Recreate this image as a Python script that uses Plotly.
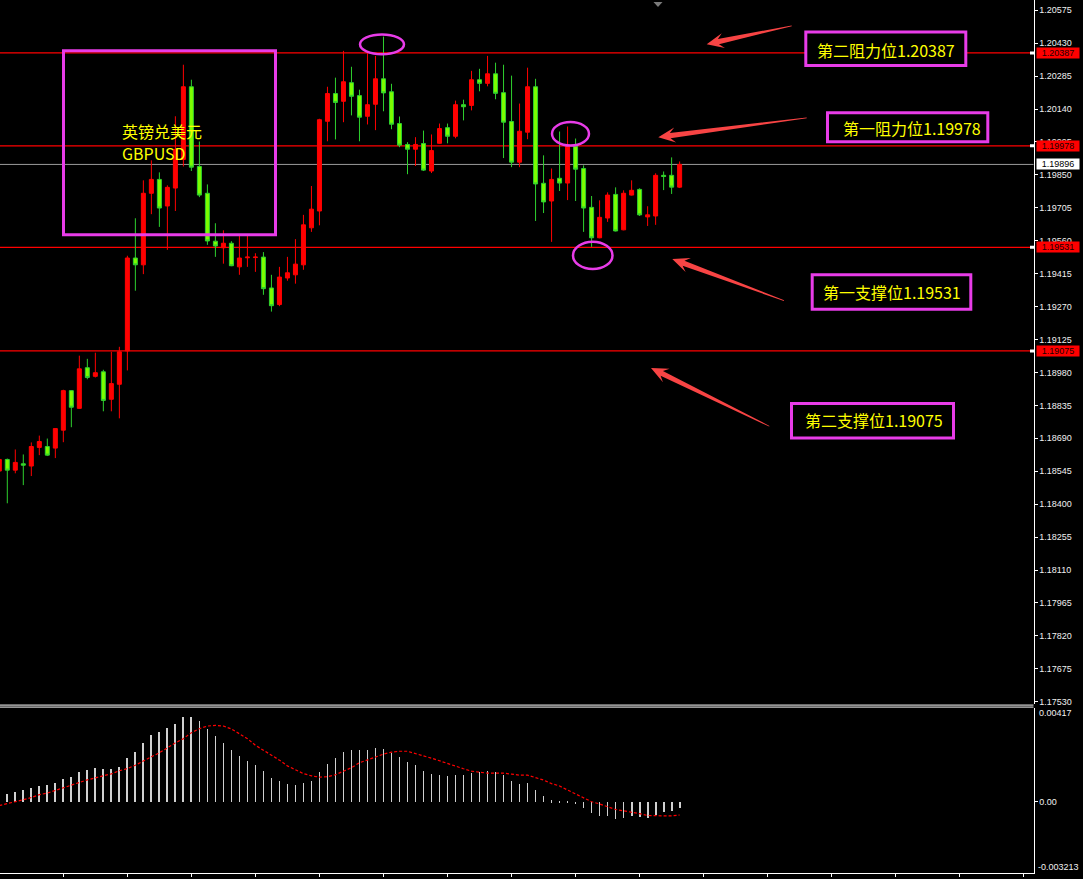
import plotly.graph_objects as go

W, H = 1083, 879

# ---------------- data (GBPUSD candles, MACD) ----------------
opens = [1.18546, 1.18597, 1.18550, 1.18578, 1.18568, 1.18650, 1.18654, 1.18647, 1.18726, 1.18900,
         1.18822, 1.19001, 1.18963, 1.18983, 1.18862, 1.18928, 1.19075, 1.19484, 1.19454, 1.19769,
         1.19830, 1.19713, 1.19792, 1.19918, 1.20238, 1.19887, 1.19769, 1.19558, 1.19529, 1.19549,
         1.19445, 1.19485, 1.19486, 1.19488, 1.19352, 1.19279, 1.19396, 1.19410, 1.19454, 1.19617,
         1.19691, 1.20086, 1.20208, 1.20174, 1.20256, 1.20199, 1.20108, 1.20161, 1.20273, 1.20216,
         1.20076, 1.19984, 1.19963, 1.19988, 1.19867, 1.19989, 1.20058, 1.20020, 1.20159, 1.20156,
         1.20269, 1.20253, 1.20295, 1.20212, 1.20085, 1.19906, 1.20038, 1.20238, 1.19813, 1.19735,
         1.19835, 1.19814, 1.19976, 1.19878, 1.19707, 1.19573, 1.19660, 1.19764, 1.19608, 1.19761,
         1.19786, 1.19665, 1.19669, 1.19848, 1.19848, 1.19796]
highs = [1.18606, 1.18601, 1.18641, 1.18619, 1.18672, 1.18702, 1.18689, 1.18733, 1.18904, 1.18902,
         1.19054, 1.19040, 1.19067, 1.18992, 1.19071, 1.19093, 1.19494, 1.19659, 1.19826, 1.19914,
         1.19861, 1.19804, 1.20108, 1.20335, 1.20269, 1.19997, 1.19808, 1.19637, 1.19606, 1.19558,
         1.19581, 1.19581, 1.19505, 1.19510, 1.19410, 1.19445, 1.19489, 1.19567, 1.19674, 1.19801,
         1.20097, 1.20238, 1.20278, 1.20396, 1.20326, 1.20225, 1.20386, 1.20374, 1.20459, 1.20251,
         1.20107, 1.19994, 1.20016, 1.20045, 1.20028, 1.20076, 1.20076, 1.20177, 1.20181, 1.20308,
         1.20317, 1.20374, 1.20344, 1.20335, 1.20287, 1.20164, 1.20322, 1.20273, 1.19936, 1.19878,
         1.20041, 1.20063, 1.20010, 1.19892, 1.19757, 1.19738, 1.19773, 1.19795, 1.19782, 1.19826,
         1.19791, 1.19712, 1.19857, 1.19865, 1.19927, 1.19909]
lows = [1.18540, 1.18404, 1.18536, 1.18484, 1.18524, 1.18616, 1.18612, 1.18603, 1.18673, 1.18739,
        1.18820, 1.18950, 1.18958, 1.18809, 1.18809, 1.18778, 1.18989, 1.19340, 1.19413, 1.19677,
        1.19621, 1.19520, 1.19691, 1.19887, 1.19867, 1.19752, 1.19542, 1.19489, 1.19459, 1.19448,
        1.19410, 1.19445, 1.19423, 1.19322, 1.19248, 1.19272, 1.19384, 1.19371, 1.19432, 1.19599,
        1.19628, 1.19998, 1.20006, 1.20082, 1.20112, 1.19998, 1.20072, 1.20047, 1.20130, 1.20051,
        1.19972, 1.19853, 1.19889, 1.19867, 1.19858, 1.19987, 1.19989, 1.20011, 1.20090, 1.20134,
        1.20218, 1.20240, 1.20183, 1.19924, 1.19884, 1.19884, 1.20007, 1.19647, 1.19682, 1.19555,
        1.19779, 1.19739, 1.19735, 1.19599, 1.19533, 1.19571, 1.19643, 1.19601, 1.19606, 1.19759,
        1.19669, 1.19625, 1.19630, 1.19783, 1.19766, 1.19792]
closes = [1.18597, 1.18550, 1.18584, 1.18572, 1.18654, 1.18676, 1.18616, 1.18733, 1.18900, 1.18827,
          1.18996, 1.18958, 1.18979, 1.18857, 1.18931, 1.19071, 1.19484, 1.19454, 1.19769, 1.19830,
          1.19704, 1.19795, 1.19962, 1.20238, 1.19884, 1.19761, 1.19559, 1.19537, 1.19549, 1.19450,
          1.19484, 1.19488, 1.19488, 1.19349, 1.19274, 1.19400, 1.19419, 1.19457, 1.19630, 1.19699,
          1.20093, 1.20208, 1.20169, 1.20260, 1.20196, 1.20104, 1.20159, 1.20273, 1.20211, 1.20073,
          1.19981, 1.19963, 1.19984, 1.19871, 1.19957, 1.20054, 1.20020, 1.20159, 1.20150, 1.20269,
          1.20253, 1.20295, 1.20209, 1.20082, 1.19906, 1.20042, 1.20238, 1.19810, 1.19731, 1.19830,
          1.19814, 1.19976, 1.19875, 1.19704, 1.19573, 1.19663, 1.19761, 1.19603, 1.19769, 1.19782,
          1.19674, 1.19674, 1.19848, 1.19843, 1.19796, 1.19896]

macd_hist = [None, 0.00036, 0.00045, 0.00054, 0.00063, 0.00072, 0.00077, 0.00086, 0.00104, 0.00113,
             0.00135, 0.00144, 0.00153, 0.00149, 0.00149, 0.00158, 0.00198, 0.00225, 0.00266, 0.00302,
             0.00315, 0.00333, 0.00351, 0.00387, 0.00383, 0.00365, 0.00329, 0.00297, 0.00266, 0.00234,
             0.00207, 0.00185, 0.00167, 0.00140, 0.00108, 0.00095, 0.00081, 0.00077, 0.00086, 0.00095,
             0.00135, 0.00171, 0.00198, 0.00225, 0.00234, 0.00234, 0.00234, 0.00243, 0.00239, 0.00221,
             0.00203, 0.00180, 0.00167, 0.00140, 0.00126, 0.00122, 0.00117, 0.00122, 0.00122, 0.00131,
             0.00135, 0.00140, 0.00135, 0.00122, 0.00095, 0.00081, 0.00086, 0.00054, 0.00027, 0.00009,
             0.00005, 0.00005, -0.00005, -0.00027, -0.00050, -0.00063, -0.00063, -0.00077, -0.00072, -0.00063,
             -0.00068, -0.00072, -0.00059, -0.00045, -0.00041, -0.00027]
macd_signal = [-0.00017, -0.00009, 0.0, 0.00009, 0.00019, 0.00032, 0.00039, 0.00051, 0.00064, 0.00073,
               0.00087, 0.00099, 0.00108, 0.00117, 0.00126, 0.00140, 0.00150, 0.00165, 0.00185, 0.00203,
               0.00221, 0.00244, 0.00266, 0.00285, 0.00312, 0.00330, 0.00342, 0.00345, 0.00342, 0.00329,
               0.00307, 0.00285, 0.00255, 0.00233, 0.00210, 0.00188, 0.00162, 0.00143, 0.00127, 0.00117,
               0.00111, 0.00113, 0.00122, 0.00138, 0.00154, 0.00176, 0.00189, 0.00203, 0.00215, 0.00224,
               0.00228, 0.00228, 0.00219, 0.00207, 0.00197, 0.00185, 0.00170, 0.00158, 0.00149, 0.00138,
               0.00134, 0.00129, 0.00129, 0.00129, 0.00125, 0.00120, 0.00120, 0.00109, 0.00098, 0.00082,
               0.00071, 0.00053, 0.00035, 0.00019, 0.0, -0.00010, -0.00023, -0.00035, -0.00041, -0.00046,
               -0.00054, -0.00062, -0.00064, -0.00064, -0.00064, -0.00060]

price_ticks = [1.20575, 1.20430, 1.20285, 1.20140, 1.19995, 1.19850, 1.19705, 1.19560, 1.19415,
               1.19270, 1.19125, 1.18980, 1.18835, 1.18690, 1.18545, 1.18400, 1.18255, 1.18110,
               1.17965, 1.17820, 1.17675, 1.17530]
levels = [1.20387, 1.19978, 1.19531, 1.19075]
level_names = ["第二阻力位", "第一阻力位", "第一支撑位", "第二支撑位"]
bid_price = 1.19896
macd_max, macd_min = 0.00417, -0.003213
title_cn, title_en = "英镑兑美元", "GBPUSD"

idx = list(range(len(opens)))

# ---------------- helpers (pixel -> paper) ----------------
def px(x):
    return x / W


def py(y):
    return 1 - y / H


XDOM = 1033.5 / W

fig = go.Figure()

fig.add_trace(go.Candlestick(
    x=idx, open=opens, high=highs, low=lows, close=closes,
    increasing=dict(line=dict(color="#FF0000", width=1), fillcolor="#FF0000"),
    decreasing=dict(line=dict(color="#2ED02E", width=1), fillcolor="#7CFC00"),
    whiskerwidth=0, hoverinfo="skip", showlegend=False, xaxis="x", yaxis="y"))

fig.add_trace(go.Bar(
    x=idx, y=macd_hist, width=0.1, marker=dict(color="#D0D0D0", line=dict(width=0)),
    hoverinfo="skip", showlegend=False, xaxis="x", yaxis="y2"))

fig.add_trace(go.Scatter(
    x=idx, y=macd_signal, mode="lines",
    line=dict(color="#FF0000", width=1.2, dash="3px,2px"),
    hoverinfo="skip", showlegend=False, xaxis="x", yaxis="y2"))

shapes = []
annotations = []

# horizontal level lines
for lv in levels:
    shapes.append(dict(type="line", xref="paper", x0=0, x1=XDOM, yref="y", y0=lv, y1=lv,
                       line=dict(color="#FF0000", width=1.3), layer="below"))
shapes.append(dict(type="line", xref="paper", x0=0, x1=XDOM, yref="y", y0=bid_price, y1=bid_price,
                   line=dict(color="#9A9A9A", width=1), layer="below"))

# price labels on the axis
for lv in levels:
    annotations.append(dict(xref="paper", x=px(1036), xanchor="left", yref="y", y=lv, yanchor="middle",
                            text=f"{lv:.5f}", showarrow=False, bgcolor="#FF0000", width=42, height=10,
                            borderpad=0, font=dict(family="Liberation Sans", size=9, color="#220000")))
    shapes.append(dict(type="rect", xref="paper", yref="y", x0=px(1030), x1=px(1034), y0=lv, y1=lv,
                       line=dict(color="#FFFFFF", width=3)))
annotations.append(dict(xref="paper", x=px(1036), xanchor="left", yref="y", y=bid_price, yanchor="middle",
                        text=f"{bid_price:.5f}", showarrow=False, bgcolor="#FFFFFF", width=42, height=10,
                        borderpad=0, font=dict(family="Liberation Sans", size=9, color="#000000")))

# MACD extreme labels
annotations.append(dict(xref="paper", x=px(1037), xanchor="left", yref="y2", y=macd_max, yanchor="middle",
                        yshift=-4, text="0.00417", showarrow=False,
                        font=dict(family="Liberation Sans", size=9, color="#F0F0F0")))
annotations.append(dict(xref="paper", x=px(1036), xanchor="left", yref="y2", y=macd_min, yanchor="middle",
                        yshift=6, text="-0.003213", showarrow=False,
                        font=dict(family="Liberation Sans", size=9, color="#F0F0F0")))

# pane separator (double line)
for yy in (707.5, 709.5):
    shapes.append(dict(type="line", xref="paper", yref="paper", x0=0, x1=XDOM, y0=py(yy), y1=py(yy),
                       line=dict(color="#FFFFFF", width=1)))

# chart shift marker
shapes.append(dict(type="path", xref="paper", yref="paper",
                   path=f"M{px(653.5)},{py(2)} L{px(662.5)},{py(2)} L{px(658)},{py(7)} Z",
                   fillcolor="#7A7A7A", line=dict(width=0)))

MAG = "#E83CE8"
# GBPUSD box and text
shapes.append(dict(type="rect", xref="paper", yref="paper", x0=px(63.5), x1=px(275.5), y0=py(51), y1=py(235.5),
                   line=dict(color=MAG, width=3)))
annotations.append(dict(xref="paper", yref="paper", x=px(120), y=py(131.5), xanchor="left", yanchor="middle",
                        text=title_cn, showarrow=False,
                        font=dict(family="Noto Sans CJK SC", size=16, color="#FFFF00")))
annotations.append(dict(xref="paper", yref="paper", x=px(120), y=py(153.5), xanchor="left", yanchor="middle",
                        text=title_en, showarrow=False,
                        font=dict(family="Noto Sans CJK SC", size=16, color="#FFFF00")))

# ellipses
for (x0, x1, y0, y1) in [(360, 404, 34.5, 54.5), (552, 589, 122.5, 146), (573, 612.5, 242.5, 270)]:
    shapes.append(dict(type="circle", xref="paper", yref="paper", x0=px(x0), x1=px(x1), y0=py(y0), y1=py(y1),
                       line=dict(color=MAG, width=2.5)))

# label boxes
boxes = [(805.8, 965.8, 32.2, 65.8, 885.5, 50),
         (827.5, 987.8, 113.2, 142.2, 911.5, 128),
         (812.2, 970.8, 275.8, 310.2, 892, 292.5),
         (791.5, 953.5, 404.8, 439.5, 873.5, 421.5)]
for (x0, x1, y0, y1, tx, ty), name, lv in zip(boxes, level_names, levels):
    shapes.append(dict(type="rect", xref="paper", yref="paper", x0=px(x0), x1=px(x1), y0=py(y0), y1=py(y1),
                       line=dict(color=MAG, width=3), fillcolor="#000000"))
    annotations.append(dict(xref="paper", yref="paper", x=px(tx), y=py(ty), xanchor="center", yanchor="middle",
                            text=f"{name}{lv:.5f}", showarrow=False,
                            font=dict(family="Noto Sans CJK SC", size=16, color="#FFFF00")))

# arrows (tapered, pointing at the levels)
def arrow_path(tail, tip):
    tx, ty = tail
    hx, hy = tip
    dx, dy = hx - tx, hy - ty
    L = (dx * dx + dy * dy) ** 0.5
    dx, dy = dx / L, dy / L
    bx, by = -dx, -dy
    nx, ny = -dy, dx
    pts = [
        (hx, hy),
        (hx + bx * 17 + nx * 7.5, hy + by * 17 + ny * 7.5),
        (hx + bx * 12 + nx * 2.6, hy + by * 12 + ny * 2.6),
        (tx + nx * 0.4, ty + ny * 0.4),
        (tx - nx * 0.4, ty - ny * 0.4),
        (hx + bx * 12 - nx * 2.6, hy + by * 12 - ny * 2.6),
        (hx + bx * 17 - nx * 7.5, hy + by * 17 - ny * 7.5),
    ]
    s = "M" + " L".join(f"{px(x)},{py(y)}" for x, y in pts) + " Z"
    return s


for tail, tip in [((791.7, 26), (706.7, 44.3)), ((806.7, 118.3), (658.3, 137.7)),
                  ((784, 301.7), (672.3, 260)), ((769.3, 427.7), (651, 369.3))]:
    shapes.append(dict(type="path", xref="paper", yref="paper", path=arrow_path(tail, tip),
                       fillcolor="#F84444", line=dict(width=0)))

fig.update_layout(
    width=W, height=H,
    margin=dict(l=0, r=0, t=0, b=0),
    paper_bgcolor="#000000", plot_bgcolor="#000000",
    boxgap=0.5, boxgroupgap=0, bargap=0,
    showlegend=False,
    shapes=shapes, annotations=annotations,
    xaxis=dict(domain=[0, XDOM], range=[0.0875, 129.2125], anchor="y2",
               showgrid=False, zeroline=False, rangeslider=dict(visible=False),
               showline=True, linecolor="#FFFFFF", linewidth=1,
               ticks="outside", ticklen=3, tickcolor="#FFFFFF",
               tickvals=list(range(8, 129, 8)), showticklabels=False),
    yaxis=dict(domain=[py(706), 1], range=[1.20620 - 706 * 0.00004388, 1.20620], anchor="x", side="right",
               showgrid=False, zeroline=False, showline=True, linecolor="#FFFFFF", linewidth=1,
               ticks="outside", ticklen=3, tickcolor="#FFFFFF",
               tickvals=price_ticks, ticktext=[f"{t:.5f}" for t in price_ticks],
               tickfont=dict(family="Liberation Sans", size=9, color="#F0F0F0")),
    yaxis2=dict(domain=[py(876), py(710)], range=[-0.00322, 0.004254], anchor="x", side="right",
                showgrid=False, zeroline=False, showline=True, linecolor="#FFFFFF", linewidth=1,
                ticks="outside", ticklen=3, tickcolor="#FFFFFF",
                tickvals=[0], ticktext=["0.00"],
                tickfont=dict(family="Liberation Sans", size=9, color="#F0F0F0")),
)

fig.write_html(
    "out.html",
    config={"displayModeBar": False},
    post_script="document.body.style.margin='0';document.body.style.background='#000';"
                "document.body.style.overflow='hidden';",
)
